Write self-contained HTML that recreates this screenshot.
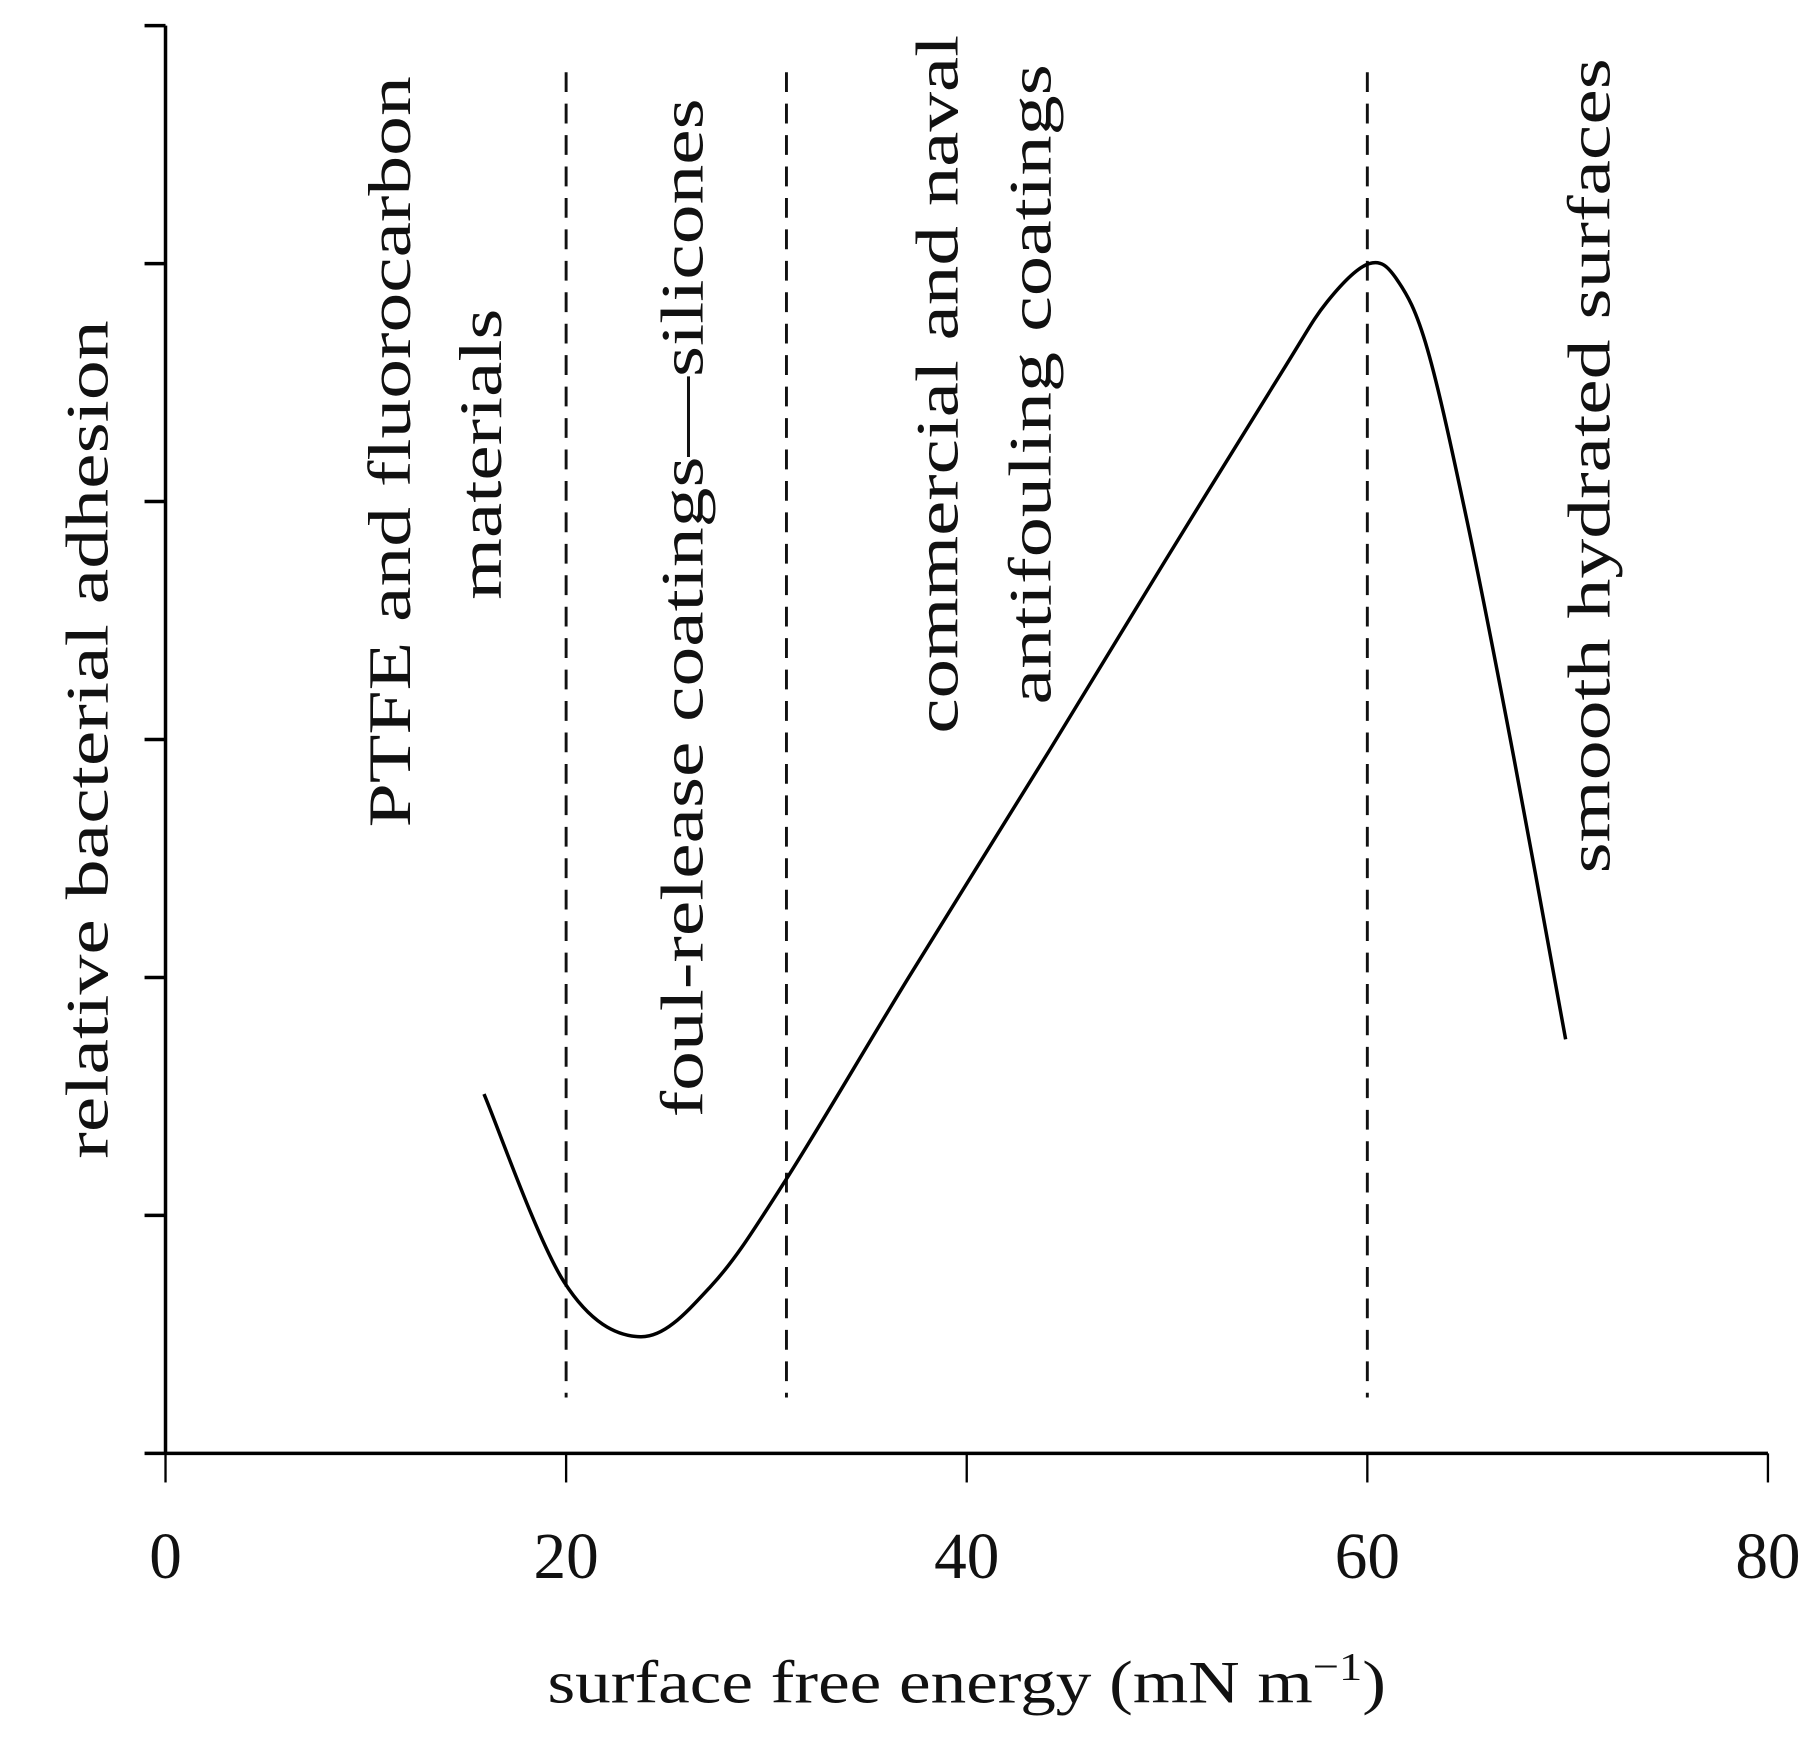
<!DOCTYPE html>
<html><head><meta charset="utf-8"><style>
html,body{margin:0;padding:0;background:#fff;}
svg{display:block;}
text{font-family:"Liberation Serif",serif;fill:#111;}
</style></head><body>
<svg id="chart" width="1817" height="1741" viewBox="0 0 1560 1495" xmlns="http://www.w3.org/2000/svg">
<g id="axes"></g>
<g id="marks"></g>
<g>
<text transform="translate(92,635) rotate(-90)" text-anchor="middle" font-size="52" textLength="720" lengthAdjust="spacingAndGlyphs">relative bacterial adhesion</text>
<text transform="translate(352,388) rotate(-90)" text-anchor="middle" font-size="52" textLength="645" lengthAdjust="spacingAndGlyphs">PTFE and fluorocarbon</text>
<text transform="translate(430,390) rotate(-90)" text-anchor="middle" font-size="52" textLength="250" lengthAdjust="spacingAndGlyphs">materials</text>
<text transform="translate(603,522) rotate(-90)" text-anchor="middle" font-size="52" textLength="875" lengthAdjust="spacingAndGlyphs">foul-release coatings—silicones</text>
<text transform="translate(822,330) rotate(-90)" text-anchor="middle" font-size="52" textLength="600" lengthAdjust="spacingAndGlyphs">commercial and naval</text>
<text transform="translate(902,330) rotate(-90)" text-anchor="middle" font-size="52" textLength="550" lengthAdjust="spacingAndGlyphs">antifouling coatings</text>
<text transform="translate(1382,400) rotate(-90)" text-anchor="middle" font-size="52" textLength="700" lengthAdjust="spacingAndGlyphs">smooth hydrated surfaces</text>
</g>
<text x="830" y="1462" text-anchor="middle" font-size="52" textLength="720" lengthAdjust="spacingAndGlyphs">surface free energy (mN m<tspan font-size="34" dy="-20">−1</tspan><tspan dy="20">)</tspan></text>
</svg>
<script>
const xTicks = [0, 20, 40, 60, 80];
const yTicks = [0, 1, 2, 3, 4, 5, 6];
const dividers = [20, 31, 60];
const curveX = [15.9, 19.9, 23.7, 27.2, 30.9, 37.1, 44.1, 49.9, 55.7, 58.0, 60.1, 61.5, 63.0, 65.0, 67.3, 69.9];
const curveY = [1.51, 0.72, 0.49, 0.70, 1.14, 2.0, 2.95, 3.75, 4.54, 4.84, 5.0, 4.93, 4.64, 3.91, 2.93, 1.74];

const X0 = 142, X1 = 1518, Y0 = 1248, Y1 = 22;
function sx(v){ return X0 + (v - 0) / 80 * (X1 - X0); }
function sy(v){ return Y0 - v / 6 * (Y0 - Y1); }
const NS = "http://www.w3.org/2000/svg";
function mk(tag, attrs, parent){
  const e = document.createElementNS(NS, tag);
  for (const k in attrs) e.setAttribute(k, attrs[k]);
  parent.appendChild(e); return e;
}
const axes = document.getElementById('axes');
const marks = document.getElementById('marks');

let ax = mk('line', {x1:X0, y1:Y0, x2:X1, y2:Y0, stroke:'#000', 'stroke-width':3}, axes);


let ay = mk('line', {x1:X0, y1:Y0, x2:X0, y2:Y1, stroke:'#000', 'stroke-width':3}, axes);



xTicks.forEach(t => {
  const l = mk('line', {x1:sx(t), y1:Y0, x2:sx(t), y2:Y0+25, stroke:'#000', 'stroke-width':2}, axes);
  
  
  const tx = mk('text', {x:sx(t), y:1355, 'text-anchor':'middle', 'font-size':56}, axes);
  tx.textContent = String(t);
  
  
});
yTicks.forEach(t => {
  const l = mk('line', {x1:X0-18, y1:sy(t), x2:X0, y2:sy(t), stroke:'#000', 'stroke-width':3}, axes);
  
  
});
dividers.forEach(d => {
  const l = mk('line', {x1:sx(d), y1:62, x2:sx(d), y2:1200, stroke:'#111', 'stroke-width':2.5, 'stroke-dasharray':'17 10'}, marks);
  
  
});

const pts = curveX.map((x, i) => [sx(x), sy(curveY[i])]);
let d = 'M' + pts[0][0] + ',' + pts[0][1];
for (let i = 0; i < pts.length - 1; i++) {
  const p0 = pts[Math.max(0, i-1)], p1 = pts[i], p2 = pts[i+1], p3 = pts[Math.min(pts.length-1, i+2)];
  const c1 = [p1[0] + (p2[0]-p0[0])/6, p1[1] + (p2[1]-p0[1])/6];
  const c2 = [p2[0] - (p3[0]-p1[0])/6, p2[1] - (p3[1]-p1[1])/6];
  d += ' C' + c1.join(',') + ' ' + c2.join(',') + ' ' + p2.join(',');
}
const path = mk('path', {d:d, fill:'none', stroke:'#000', 'stroke-width':3}, marks);


</script>
</body></html>
